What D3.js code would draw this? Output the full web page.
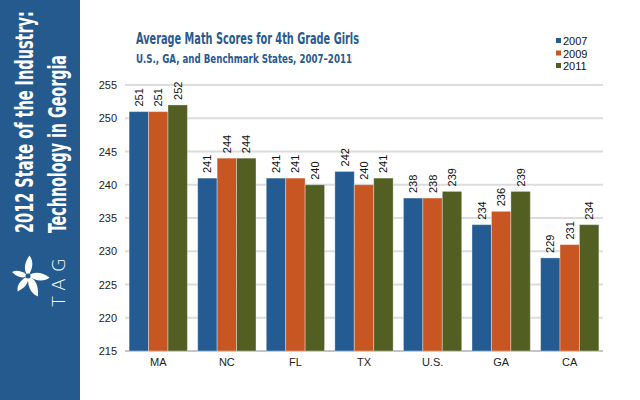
<!DOCTYPE html>
<html>
<head>
<meta charset="utf-8">
<script src="https://cdn.jsdelivr.net/npm/d3@7"></script>
<style>
  body { margin: 0; background: #fff; }
  svg { display: block; }
</style>
</head>
<body>
<div id="chart"></div>
<script>
// data
const STATES = ["MA", "NC", "FL", "TX", "U.S.", "GA", "CA"];
const YEARS = ["2007", "2009", "2011"];
const SCORES_2007 = [251, 241, 241, 242, 238, 234, 229];
const SCORES_2009 = [251, 244, 241, 240, 238, 236, 231];
const SCORES_2011 = [252, 244, 240, 241, 239, 239, 234];
const Y_TICKS = [215, 220, 225, 230, 235, 240, 245, 250, 255];
const COLORS = ["#235b92", "#c75622", "#535e22"];

const WIDTH = 640;
const HEIGHT = 400;

const svg = d3.select("#chart")
  .append("svg")
    .attr("width", WIDTH)
    .attr("height", HEIGHT);

// squeeze a text to a given length by shrinking the font and stretching it back up
function fitText(sel, target, size) {
  const len = sel.node().getComputedTextLength();
  const fs = size * target / len;
  sel.attr("font-size", fs);
  const t = sel.attr("transform");
  sel.attr("transform", t + ` scale(1,${size / fs})`);
}

// left sidebar
svg.append("rect")
  .attr("x", 0).attr("y", 0)
  .attr("width", 80).attr("height", HEIGHT)
  .attr("fill", "#245a8e");

const sideFont = "'Liberation Sans Narrow', 'DejaVu Sans Condensed', 'Liberation Sans', sans-serif";
const side1 = svg.append("text")
  .attr("transform", "translate(33,233) rotate(-90)")
  .attr("font-family", sideFont)
  .attr("font-weight", "bold")
  .attr("font-size", 24)
  .attr("fill", "#fff")
  .text("2012 State of the Industry:");
fitText(side1, 222, 24);
const side2 = svg.append("text")
  .attr("transform", "translate(66,233) rotate(-90)")
  .attr("font-family", sideFont)
  .attr("font-weight", "bold")
  .attr("font-size", 24)
  .attr("fill", "#fff")
  .text("Technology in Georgia");
fitText(side2, 178, 24);

// TAG logo (pinwheel of petals)
const logo = svg.append("g").attr("transform", "translate(28,276)");
const petal = "M0,0 C5,-5 9,-13 5,-20 C-1,-14 -4,-7 0,0 Z";
[[-10, 1], [80, 1.05], [140, 1.1], [200, 0.9], [270, 0.8]].forEach(([a, s]) => {
  logo.append("path")
    .attr("d", petal)
    .attr("transform", `rotate(${a}) scale(${s})`)
    .attr("fill", "#fff");
});
logo.append("circle").attr("r", 2.5).attr("fill", "#245a8e");
svg.append("text")
  .attr("transform", "translate(65,307) rotate(-90)")
  .attr("font-family", "'DejaVu Sans', sans-serif")
  .attr("font-weight", 300)
  .attr("font-size", 18)
  .attr("fill", "#fff")
  .attr("textLength", 49)
  .attr("lengthAdjust", "spacing")
  .text("TAG");

// titles
const titleFont = "'DejaVu Sans Condensed', 'Liberation Sans Narrow', sans-serif";
svg.append("text")
  .attr("x", 136).attr("y", 44)
  .attr("font-family", titleFont)
  .attr("font-weight", "bold")
  .attr("font-size", 15)
  .attr("fill", "#2a5a8f")
  .attr("textLength", 223)
  .attr("lengthAdjust", "spacingAndGlyphs")
  .text("Average Math Scores for 4th Grade Girls");
svg.append("text")
  .attr("x", 136).attr("y", 63)
  .attr("font-family", titleFont)
  .attr("font-weight", "bold")
  .attr("font-size", 12.5)
  .attr("fill", "#2a5a8f")
  .attr("textLength", 216)
  .attr("lengthAdjust", "spacingAndGlyphs")
  .text("U.S., GA, and Benchmark States, 2007–2011");

// scales
const x = d3.scaleBand()
  .domain(STATES)
  .range([125, 603])
  .paddingInner(0.15)
  .paddingOuter(0.06);

const xs = d3.scaleBand()
  .domain(YEARS)
  .range([0, x.bandwidth()]);

const y = d3.scaleLinear()
  .domain([215, 255])
  .range([351, 85]);

// gridlines
svg.append("g")
  .selectAll("line")
  .data(Y_TICKS)
  .enter()
  .append("line")
    .attr("x1", 125).attr("x2", 603)
    .attr("y1", d => y(d)).attr("y2", d => y(d))
    .attr("stroke", d => d === 215 ? "#c4c4c4" : "#dcdcdc")
    .attr("stroke-width", 2);

// y axis labels
const yAxis = svg.append("g")
  .attr("transform", "translate(117,0)")
  .call(d3.axisLeft(y).tickValues(Y_TICKS).tickSize(0).tickPadding(0));
yAxis.select(".domain").remove();
yAxis.selectAll("text")
  .attr("font-family", "'Liberation Sans', Arial, sans-serif")
  .attr("font-size", 11)
  .attr("fill", "#222");

// x axis labels
const xAxis = svg.append("g")
  .attr("transform", "translate(0,358)")
  .call(d3.axisBottom(x).tickSize(0).tickPadding(0));
xAxis.select(".domain").remove();
xAxis.selectAll("text")
  .attr("font-family", "'Liberation Sans', Arial, sans-serif")
  .attr("font-size", 11)
  .attr("fill", "#222");

// bars
const series = [SCORES_2007, SCORES_2009, SCORES_2011];
const rows = [];
STATES.forEach((s, i) => {
  YEARS.forEach((yr, j) => {
    rows.push({ state: s, year: yr, value: series[j][i], k: j });
  });
});

svg.append("g")
  .selectAll("rect")
  .data(rows)
  .enter()
  .append("rect")
    .attr("x", d => x(d.state) + xs(d.year))
    .attr("y", d => y(d.value))
    .attr("width", xs.bandwidth())
    .attr("height", d => y(215) - y(d.value))
    .attr("fill", d => COLORS[d.k])
    .attr("stroke", "rgba(255,255,255,0.35)")
    .attr("stroke-width", 1);

// value labels
svg.append("g")
  .selectAll("text")
  .data(rows)
  .enter()
  .append("text")
    .attr("transform", d => `translate(${x(d.state) + xs(d.year) + xs.bandwidth() / 2 + 4},${y(d.value) - 5}) rotate(-90)`)
    .attr("font-family", "'Liberation Sans', Arial, sans-serif")
    .attr("font-size", 11)
    .attr("fill", "#111")
    .text(d => d.value);

// legend
const legend = svg.append("g")
  .selectAll("g")
  .data(YEARS)
  .enter()
  .append("g")
    .attr("transform", (d, i) => `translate(556,${38 + i * 12.5})`);
legend.append("rect")
  .attr("width", 5).attr("height", 5)
  .attr("fill", (d, i) => COLORS[i]);
legend.append("text")
  .attr("x", 7).attr("y", 7)
  .attr("font-family", "'Liberation Sans', Arial, sans-serif")
  .attr("font-size", 11)
  .attr("fill", "#111")
  .text(d => d);
</script>
</body>
</html>
